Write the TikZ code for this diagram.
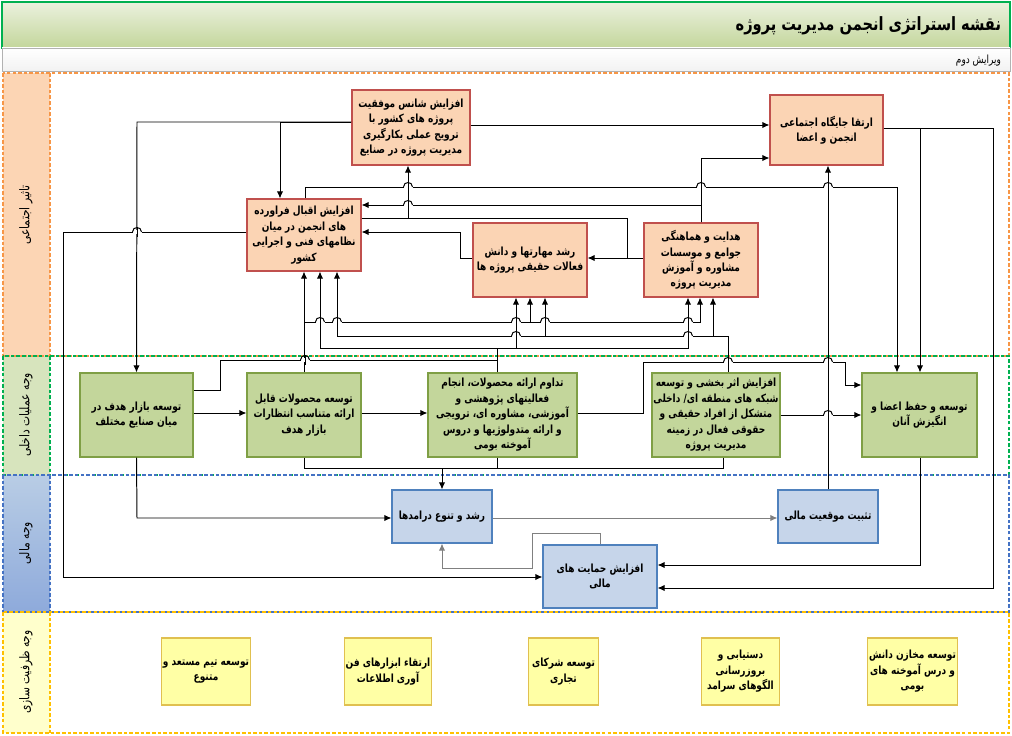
\documentclass[tikz,border=0pt]{standalone}
\usepackage{fontspec}
\newfontfamily\fafont[Script=Arabic, BoldFont={DejaVu Sans Bold}, FakeStretch=0.8]{DejaVu Sans}
\TeXXeTstate=1
\usetikzlibrary{arrows.meta}
\newcommand{\fa}[1]{{\fafont\beginR #1\endR}}
% small bridge where a line jumps over another one
\newcommand{\hopx}[2]{%
  \draw[white, line width=2.4pt] (#1-4.5,#2) -- (#1+4.5,#2);
  \draw[line width=0.7pt] (#1,#2-5) -- (#1,#2+5);
  \draw[line width=0.7pt] (#1-4.5,#2) .. controls (#1-4.5,#2-6) and (#1+4.5,#2-6) .. (#1+4.5,#2);}

\definecolor{socfill}{HTML}{FBD4B4}
\definecolor{socline}{HTML}{C0504D}
\definecolor{opsfill}{HTML}{C3D69B}
\definecolor{opsline}{HTML}{7F9F45}
\definecolor{finfill}{HTML}{C6D5EA}
\definecolor{finline}{HTML}{4F81BD}
\definecolor{capfill}{HTML}{FFFFA5}
\definecolor{capline}{HTML}{E0C050}
\definecolor{lblsoc}{HTML}{FCD5B4}
\definecolor{lblops}{HTML}{D7E4BD}
\definecolor{lblfintop}{HTML}{B9CDE5}
\definecolor{lblfinbot}{HTML}{8EAADB}
\definecolor{lblcap}{HTML}{FFFFCC}
\definecolor{bandsoc}{HTML}{F79646}
\definecolor{bandops}{HTML}{00B050}
\definecolor{bandfin}{HTML}{4472C4}
\definecolor{bandcap}{HTML}{FFC000}
\definecolor{ttltop}{HTML}{EBF1DE}
\definecolor{ttlbot}{HTML}{C3D69B}
\definecolor{ttlline}{HTML}{00B050}
\definecolor{graylink}{HTML}{808080}

\tikzset{
  wh/.style 2 args={minimum width=#1*0.025cm, minimum height=#2*0.025cm},
  box/.style={draw, line width=0.8pt, align=center, inner sep=1pt,
    font=\fontsize{8}{11}\selectfont\bfseries},
  socbox/.style={box, draw=socline, fill=socfill},
  opsbox/.style={box, draw=opsline, fill=opsfill},
  finbox/.style={box, draw=finline, fill=finfill},
  capbox/.style={box, draw=capline, fill=capfill, line width=1pt},
  banddash/.style={line width=1.5pt, dash pattern=on 2.5pt off 1.5pt},
  bandlbl/.style={rotate=90, font=\fontsize{9.5}{11}\selectfont},
  conn/.style={line width=0.7pt, -{Latex[length=5pt,width=4.5pt]}},
  link/.style={line width=0.7pt},
  grayconn/.style={conn, draw=graylink},
}

\begin{document}
\begin{tikzpicture}[x=0.025cm,y=-0.025cm]
\useasboundingbox (0,0) rectangle (1012,736);

% title and edition
\draw[draw=ttlline, line width=0.8pt, top color=ttltop, bottom color=ttlbot] (2,2) rectangle (1010,48);
\node[anchor=east, font=\fontsize{13}{15}\selectfont\bfseries] (ttl) at (1006,26) {\fa{نقشه استراتژی انجمن مدیریت پروژه}};
\draw[draw=gray!60, top color=white, bottom color=gray!10] (2,48) rectangle (1010,71);
\node[anchor=east, font=\fontsize{8}{9}\selectfont] (ver) at (1006,61) {\fa{ویرایش دوم}};

% bands
\fill[white] (3,73) rectangle (1009,733);
\fill[lblsoc] (3,73) rectangle (50,356);
\fill[lblops] (3,356) rectangle (50,475);
\shade[top color=lblfintop, bottom color=lblfinbot] (3,475) rectangle (50,612);
\fill[lblcap] (3,612) rectangle (50,733);
\draw[banddash, draw=bandsoc] (3,73) rectangle (1009,356) (50,73) -- (50,356);
\draw[banddash, draw=bandops] (3,356) rectangle (1009,475) (50,356) -- (50,475);
\draw[banddash, draw=bandfin] (3,475) rectangle (1009,612) (50,475) -- (50,612);
\draw[banddash, draw=bandcap] (3,612) rectangle (1009,733) (50,612) -- (50,733);
\node[bandlbl] (lsoc) at (26,215) {\fa{تاثیر اجتماعی}};
\node[bandlbl] (lops) at (26,415) {\fa{وجه عملیات داخلی}};
\node[bandlbl] (lfin) at (26,543) {\fa{وجه مالی}};
\node[bandlbl] (lcap) at (26,672) {\fa{وجه ظرفیت سازی}};

% social impact
\node[socbox, wh={118}{75}] (afz) at (411,127.5) {\fa{افزایش شانس موفقیت}\\\fa{پروژه های کشور با}\\\fa{ترویج عملی بکارگیری}\\\fa{مدیریت پروژه در صنایع}};
\node[socbox, wh={113}{70}] (ert) at (826.5,130) {\fa{ارتقا جایگاه اجتماعی}\\\fa{انجمن و اعضا}};
\node[socbox, wh={114}{72}] (eqb) at (304,235) {\fa{افزایش اقبال فراورده}\\\fa{های انجمن در میان}\\\fa{نظامهای فنی و اجرایی}\\\fa{کشور}};
\node[socbox, wh={114}{74}] (rsh) at (530,260) {\fa{رشد مهارتها و دانش}\\\fa{فعالات حقیقی پروژه ها}};
\node[socbox, wh={114}{74}] (hed) at (701,260) {\fa{هدایت و هماهنگی}\\\fa{جوامع و موسسات}\\\fa{مشاوره و آموزش}\\\fa{مدیریت پروژه}};

% internal operations
\node[opsbox, wh={113}{84}] (bzr) at (136.5,415) {\fa{توسعه بازار هدف در}\\\fa{میان صنایع مختلف}};
\node[opsbox, wh={114}{84}] (mhs) at (304,415) {\fa{توسعه محصولات قابل}\\\fa{ارائه متناسب انتظارات}\\\fa{بازار هدف}};
\node[opsbox, wh={149}{84}] (tdm) at (502.5,415) {\fa{تداوم ارائه محصولات، انجام}\\\fa{فعالیتهای پژوهشی و}\\\fa{آموزشی، مشاوره ای، ترویجی}\\\fa{و ارائه متدولوژیها و دروس}\\\fa{آموخته بومی}};
\node[opsbox, wh={120}{84}] (asr) at (716,415) {\fa{افزایش اثر بخشی و توسعه}\\\fa{شبکه های منطقه ای/ داخلی}\\\fa{متشکل از افراد حقیقی و}\\\fa{حقوقی فعال در زمینه}\\\fa{مدیریت پروژه}};
\node[opsbox, wh={115}{84}] (ozv) at (919.5,415) {\fa{توسعه و حفظ اعضا و}\\\fa{انگیزش آنان}};

% financial
\node[finbox, wh={100}{53}] (drm) at (442,516.5) {\fa{رشد و تنوع درامدها}};
\node[finbox, wh={100}{53}] (tsb) at (828,516.5) {\fa{تثبیت موقعیت مالی}};
\node[finbox, wh={114}{63}] (hmy) at (600,576.5) {\fa{افزایش حمایت های}\\\fa{مالی}};

% capacity building
\node[capbox, wh={82}{67}] (tim) at (206,671.5) {\fa{توسعه تیم مستعد و}\\\fa{متنوع}};
\node[capbox, wh={80}{67}] (abz) at (388,671.5) {\fa{ارتقاء ابزارهای فن}\\\fa{آوری اطلاعات}};
\node[capbox, wh={70}{67}] (shr) at (563.5,671.5) {\fa{توسعه شرکای}\\\fa{تجاری}};
\node[capbox, wh={78}{67}] (dst) at (740.5,671.5) {\fa{دستیابی و}\\\fa{بروزرسانی}\\\fa{الگوهای سرامد}};
\node[capbox, wh={80}{67}] (mkh) at (912.5,671.5) {\fa{توسعه مخازن دانش}\\\fa{و درس آموخته های}\\\fa{بومی}};

% links inside the social band
\draw[conn] (afz.west |- 0,122) -- (137,122) -- (bzr.north);
\draw[conn] (afz.west |- 0,122) -- (280,122) -- (eqb.north -| 280,0);
\draw[conn] (afz.east |- 0,125) -- (ert.west |- 0,125);
\draw[conn] (eqb.north -| 305,0) -- (305,187) -- (897,187) -- (ozv.north -| 897,0);
\draw[conn] (eqb.east |- 0,218) -- (408,218) -- (afz.south -| 408,0);
\draw[link] (hed.west |- 0,258) -- (627,258) -- (627,218) -- (408,218);
\draw[conn] (hed.west |- 0,258) -- (rsh.east |- 0,258);
\draw[conn] (rsh.west |- 0,258) -- (460,258) -- (460,232) -- (eqb.east |- 0,232);
\draw[conn] (hed.north) -- (701,205) -- (eqb.east |- 0,205);
\draw[conn] (hed.north) -- (701,158) -- (ert.west |- 0,158);
\draw[conn] (ert.east |- 0,128) -- (993,128) -- (993,588) -- (hmy.east |- 0,588);
\draw[conn] (ert.east |- 0,128) -- (920,128) -- (ozv.north -| 920,0);
\draw[conn] (tsb.north) -- (tsb.north |- ert.south);
\draw[conn] (eqb.west |- 0,232) -- (63,232) -- (63,577) -- (hmy.west |- 0,577);
\draw[conn] (ozv.south -| 920,0) -- (920,565) -- (hmy.east |- 0,565);

% internal operations to social impact
\draw[conn] (mhs.north) -- (eqb.south);
\draw[conn] (mhs.north |- 0,322) -- (530,322) -- (rsh.south -| 530,0);
\draw[conn] (530,322) -- (700,322) -- (hed.south -| 700,0);
\draw[link] (bzr.east |- 0,390) -- (220,390) -- (220,360) -- (497,360);
\draw[conn] (tdm.north -| 497,0) -- (497,348) -- (320,348) -- (eqb.south -| 320,0);
\draw[conn] (497,348) -- (688,348) -- (hed.south -| 688,0);
\draw[conn] (516,348) -- (rsh.south -| 516,0);
\draw[conn] (asr.north -| 728,0) -- (728,336) -- (337,336) -- (eqb.south -| 337,0);
\draw[conn] (545,336) -- (rsh.south -| 545,0);
\draw[conn] (713,336) -- (hed.south -| 713,0);

% within internal operations
\draw[conn] (bzr.east |- 0,413) -- (mhs.west |- 0,413);
\draw[conn] (mhs.east |- 0,413) -- (tdm.west |- 0,413);
\draw[conn] (asr.east |- 0,415) -- (ozv.west |- 0,415);
\draw[conn] (tdm.east |- 0,413) -- (643,413) -- (643,362) -- (845,362) -- (845,385) -- (ozv.west |- 0,385);

% to the financial band
\draw[conn] (mhs.south) -- (304,468) -- (442,468) -- (drm.north);
\draw[link] (tdm.south -| 497,0) -- (497,468) -- (442,468);
\draw[link] (asr.south -| 723,0) -- (723,468) -- (497,468);
\draw[conn] (bzr.south) -- (137,518) -- (drm.west |- 0,518);
\draw[grayconn] (drm.east |- 0,518) -- (tsb.west |- 0,518);
\draw[grayconn] (hmy.north) -- (600,533) -- (532,533) -- (532,568) -- (442,568) -- (drm.south);

% line jumps
\hopx{137}{232}
\hopx{305}{360}
\hopx{320}{322}\hopx{337}{322}\hopx{516}{322}\hopx{545}{322}\hopx{688}{322}
\hopx{516}{336}\hopx{688}{336}
\hopx{408}{187}\hopx{701}{187}\hopx{828}{187}
\hopx{408}{205}
\hopx{728}{362}\hopx{828}{362}
\hopx{828}{415}
\end{tikzpicture}
\end{document}
